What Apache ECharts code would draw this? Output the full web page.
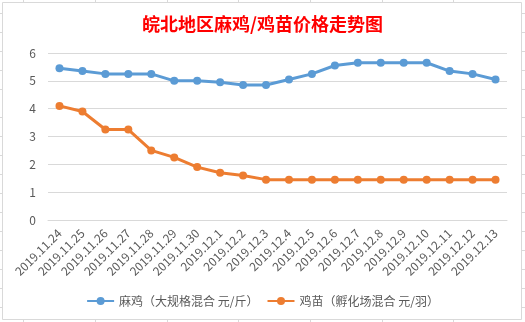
<!DOCTYPE html>
<html>
<head>
<meta charset="utf-8">
<script src="https://cdn.jsdelivr.net/npm/echarts@6/dist/echarts.min.js"></script>
<style>
html,body{margin:0;padding:0;background:#fff;}
#c{width:525px;height:322px;}
</style>
</head>
<body>
<div id="c"></div>
<script>
const titleText = '皖北地区麻鸡/鸡苗价格走势图';
const categories = ['2019.11.24','2019.11.25','2019.11.26','2019.11.27','2019.11.28','2019.11.29','2019.11.30','2019.12.1','2019.12.2','2019.12.3','2019.12.4','2019.12.5','2019.12.6','2019.12.7','2019.12.8','2019.12.9','2019.12.10','2019.12.11','2019.12.12','2019.12.13'];
const seriesNames = ['麻鸡（大规格混合 元/斤）','鸡苗（孵化场混合 元/羽）'];
const maji = [5.45,5.35,5.25,5.25,5.25,5.0,5.0,4.95,4.85,4.85,5.05,5.25,5.55,5.65,5.65,5.65,5.65,5.35,5.25,5.05];
const jimiao = [4.1,3.9,3.25,3.25,2.5,2.25,1.9,1.7,1.6,1.45,1.45,1.45,1.45,1.45,1.45,1.45,1.45,1.45,1.45,1.45];
const yTicks = [0,1,2,3,4,5,6];

const chart = echarts.init(document.getElementById('c'), null, {renderer:'canvas'});
const gridColor = '#d9d9d9';
const textColor = '#595959';
const font = '"Microsoft YaHei","Noto Sans CJK SC","Noto Sans",sans-serif';

// spreadsheet background lines (outside chart frame)
const bg = [];
const rowYs = [13,32,51,70,89,117,136,155,174,193,212,231,250,269,288,307];
rowYs.forEach(y=>{
  bg.push({type:'line',shape:{x1:0,y1:y+0.5,x2:3,y2:y+0.5},style:{stroke:gridColor,lineWidth:1},silent:true});
  bg.push({type:'line',shape:{x1:521,y1:y+0.5,x2:525,y2:y+0.5},style:{stroke:gridColor,lineWidth:1},silent:true});
});
const colXs = [23,95,167,238,310,382,453];
colXs.forEach(x=>{
  bg.push({type:'line',shape:{x1:x+0.5,y1:0,x2:x+0.5,y2:2},style:{stroke:gridColor,lineWidth:1},silent:true});
  bg.push({type:'line',shape:{x1:x+0.5,y1:319,x2:x+0.5,y2:322},style:{stroke:gridColor,lineWidth:1},silent:true});
});
bg.push({type:'rect',shape:{x:2.5,y:2.5,width:519,height:317},style:{fill:'#fff',stroke:gridColor,lineWidth:1},silent:true,z:-1});

chart.setOption({
  animation:false,
  backgroundColor:'#fff',
  graphic: bg,
  title:{
    text:titleText,
    left:'center',
    top:10,
    textStyle:{color:'#ff0000',fontSize:18,fontWeight:'bold',fontFamily:font}
  },
  legend:{
    bottom:10,
    left:'center',
    itemWidth:27,
    itemHeight:10,
    itemGap:8,
    textStyle:{color:textColor,fontSize:12,fontFamily:font},
    data:seriesNames
  },
  grid:{left:48,right:18,top:53,bottom:102,containLabel:false},
  xAxis:{
    type:'category',
    data:categories,
    boundaryGap:true,
    axisLine:{show:true,lineStyle:{color:gridColor,width:1}},
    axisTick:{show:false},
    axisLabel:{interval:0,rotate:45,color:textColor,fontSize:12,fontFamily:font,margin:11}
  },
  yAxis:{
    type:'value',
    min:yTicks[0],
    max:yTicks[yTicks.length-1],
    interval:1,
    axisLine:{show:false},
    axisTick:{show:false},
    splitLine:{lineStyle:{color:gridColor,width:1}},
    axisLabel:{color:textColor,fontSize:12,fontFamily:font,margin:12}
  },
  series:[
    {name:seriesNames[0],type:'line',data:maji,symbol:'circle',symbolSize:8,
     lineStyle:{color:'#5b9bd5',width:3},itemStyle:{color:'#5b9bd5'}},
    {name:seriesNames[1],type:'line',data:jimiao,symbol:'circle',symbolSize:8,
     lineStyle:{color:'#ed7d31',width:3},itemStyle:{color:'#ed7d31'}}
  ]
});
</script>
</body>
</html>
